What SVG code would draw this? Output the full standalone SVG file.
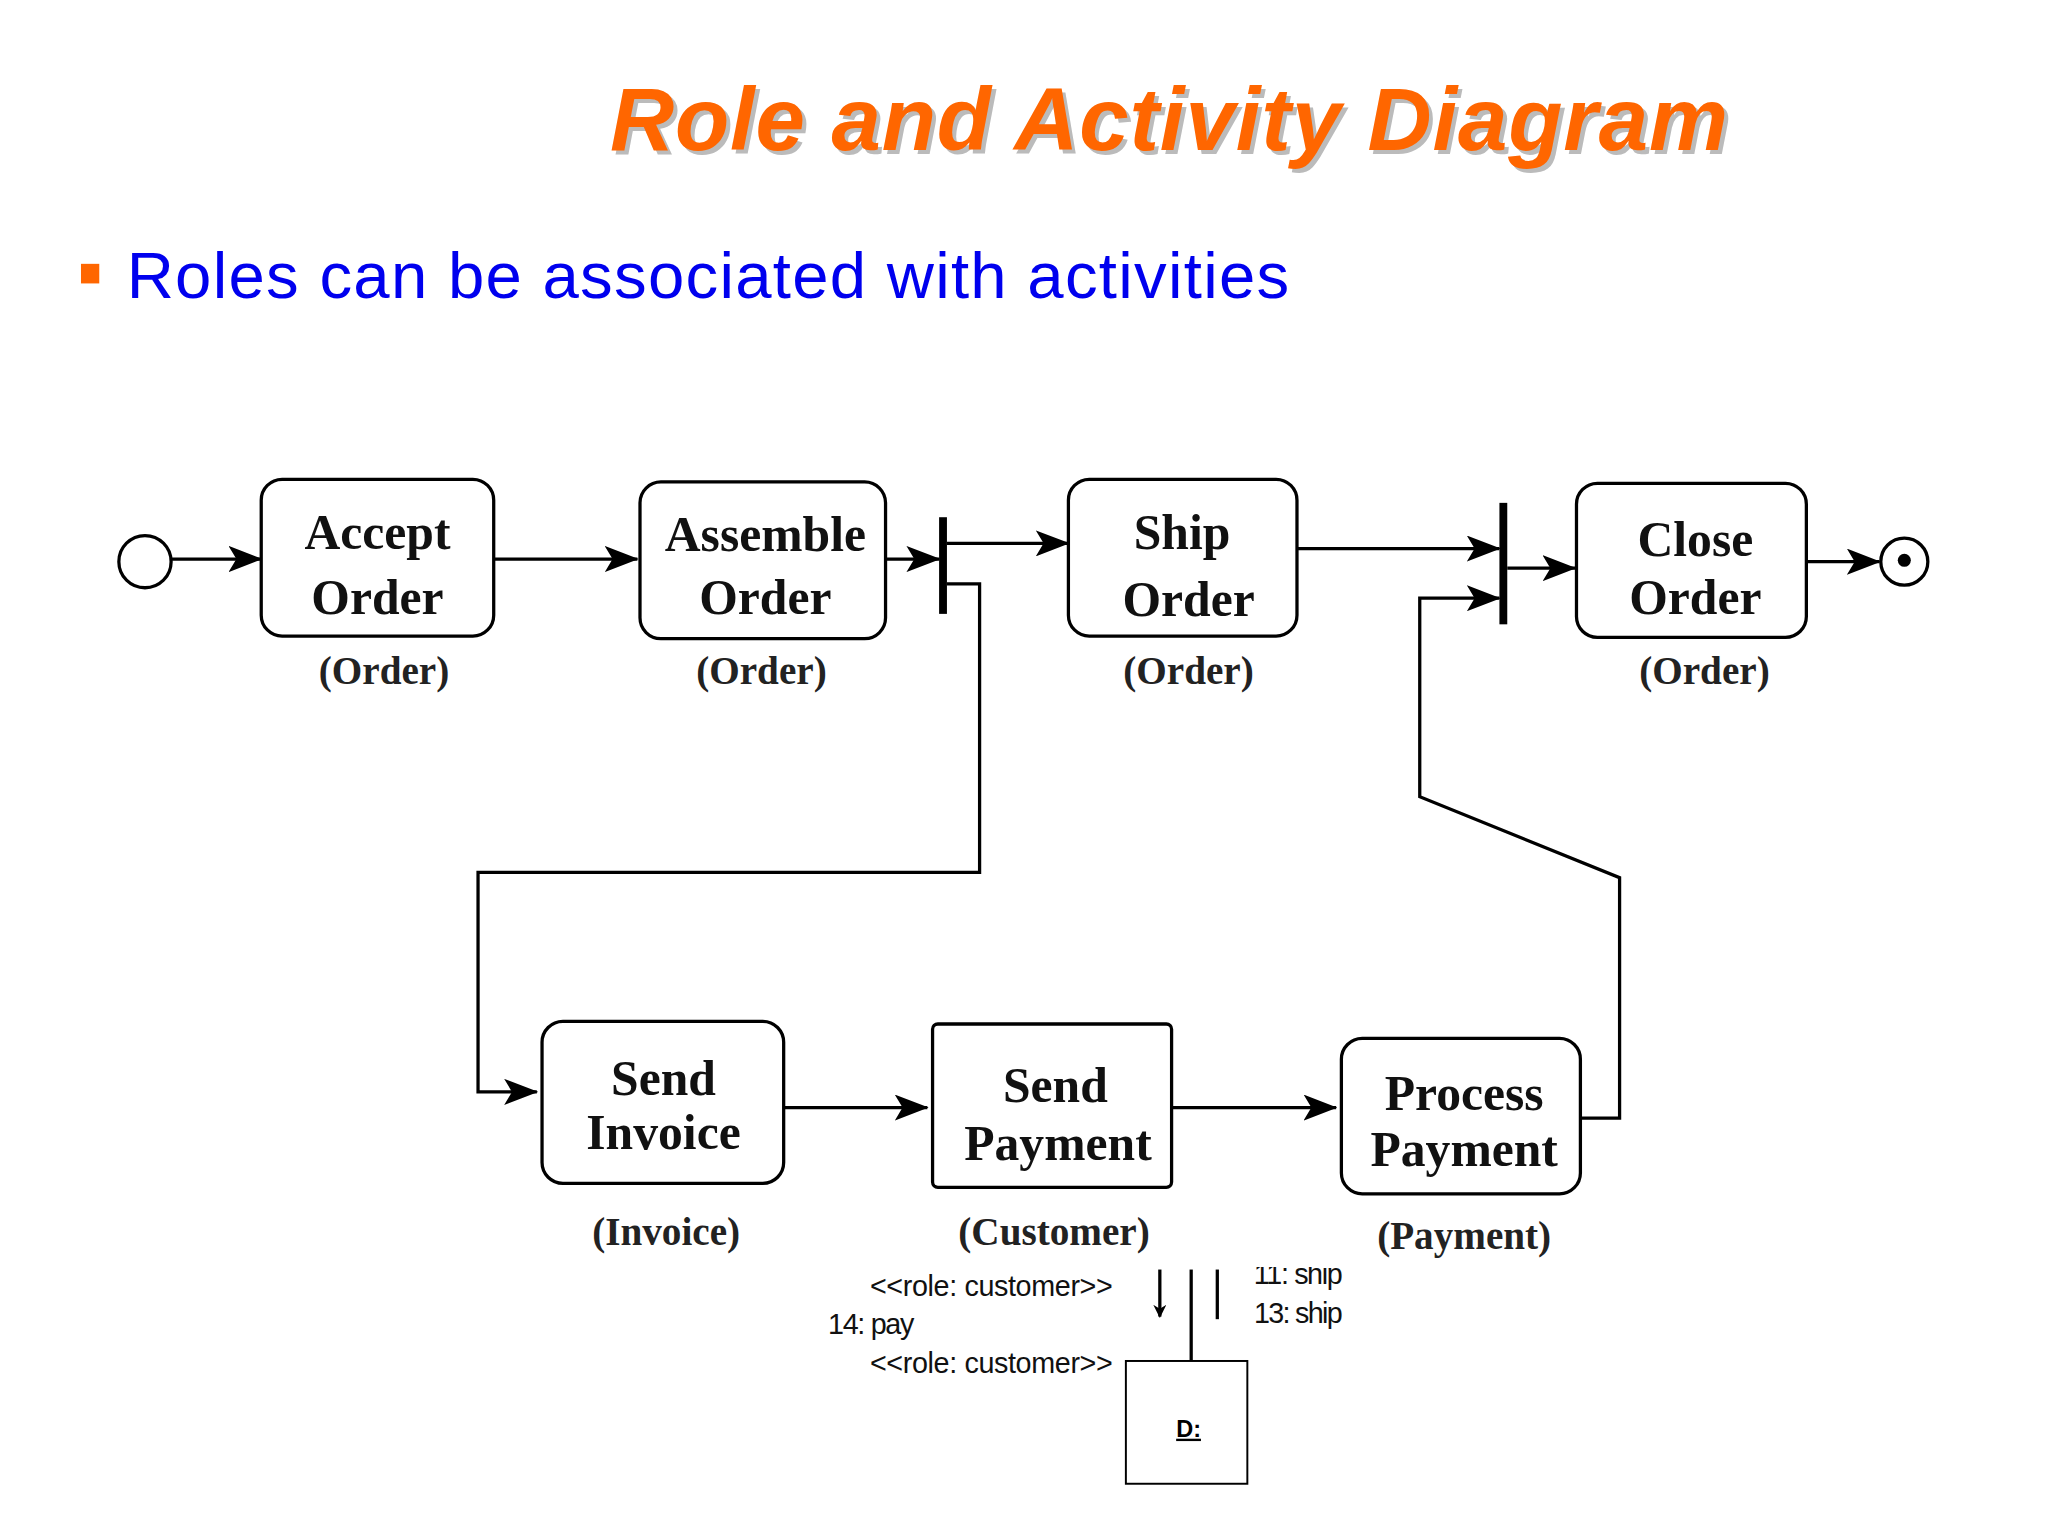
<svg xmlns="http://www.w3.org/2000/svg" width="2048" height="1536" viewBox="0 0 2048 1536">
<defs>
<style>
.box{fill:#fff;stroke:#000;stroke-width:2.5}
.ln{fill:none;stroke:#000;stroke-width:2.5}
.nt{font-family:"Liberation Serif",serif;font-weight:bold;font-size:38px;text-anchor:middle;fill:#111}
.rl{font-family:"Liberation Serif",serif;font-weight:bold;font-size:30px;text-anchor:middle;fill:#222}
.sm{font-family:"Liberation Sans",sans-serif;font-size:22px;fill:#111}
</style>
<marker id="ah" markerWidth="10" markerHeight="10" refX="9" refY="5" orient="auto" markerUnits="userSpaceOnUse" viewBox="0 0 10 10">
<path d="M0,0 L10,5 L0,10 L3,5 Z" fill="#000"/>
</marker>
<marker id="ah2" markerWidth="26" markerHeight="20" refX="25" refY="10" orient="auto" markerUnits="userSpaceOnUse" viewBox="0 0 26 20">
<path d="M0,0 L26,10 L0,20 L6,10 Z" fill="#000"/>
</marker>
</defs>
<rect width="2048" height="1536" fill="#fff"/>
<g transform="scale(1.30612)">
<g id="title">
<text x="470" y="118" font-family="Liberation Sans,sans-serif" font-weight="bold" font-style="italic" font-size="68" fill="#bbb" textLength="856">Role and Activity Diagram</text>
<text x="467" y="115" font-family="Liberation Sans,sans-serif" font-weight="bold" font-style="italic" font-size="68" fill="#FF6600" textLength="856">Role and Activity Diagram</text>
</g>
<g id="bullet">
<rect x="62" y="202" width="14" height="15" fill="#FF6600"/>
<text x="97" y="228" font-family="Liberation Sans,sans-serif" font-size="50" fill="#0000EE" textLength="890">Roles can be associated with activities</text>
</g>
<g id="connectors">
<line class="ln" x1="131" y1="428" x2="200" y2="428" marker-end="url(#ah2)"/>
<line class="ln" x1="378" y1="428" x2="488" y2="428" marker-end="url(#ah2)"/>
<line class="ln" x1="678" y1="428" x2="719" y2="428" marker-end="url(#ah2)"/>
<line class="ln" x1="725" y1="416" x2="818" y2="416" marker-end="url(#ah2)"/>
<polyline class="ln" points="725,447 750,447 750,668 366,668 366,836 411,836" marker-end="url(#ah2)"/>
<line class="ln" x1="993" y1="420" x2="1148" y2="420" marker-end="url(#ah2)"/>
<line class="ln" x1="1154" y1="435" x2="1206" y2="435" marker-end="url(#ah2)"/>
<line class="ln" x1="1383" y1="430" x2="1439" y2="430" marker-end="url(#ah2)"/>
<line class="ln" x1="600" y1="848" x2="710" y2="848" marker-end="url(#ah2)"/>
<line class="ln" x1="897" y1="848" x2="1023" y2="848" marker-end="url(#ah2)"/>
<polyline class="ln" points="1210,856 1240,856 1240,672 1087,610 1087,458 1148,458" marker-end="url(#ah2)"/>
</g>
<g id="start"><circle cx="111" cy="430" r="20" class="box"/></g>
<g id="fork"><rect x="719" y="396" width="6" height="74" fill="#000"/></g>
<g id="join"><rect x="1148" y="385" width="6" height="93" fill="#000"/></g>
<g id="end"><circle cx="1458" cy="430" r="18" class="box"/><circle cx="1458" cy="429" r="5" fill="#000"/></g>
<g id="accept"><rect class="box" x="200" y="367" width="178" height="120" rx="16"/>
<text class="nt" x="289" y="420">Accept</text><text class="nt" x="289" y="470">Order</text><text class="rl" x="294" y="524">(Order)</text></g>
<g id="assemble"><rect class="box" x="490" y="369" width="188" height="120" rx="16"/>
<text class="nt" x="586" y="422">Assemble</text><text class="nt" x="586" y="470">Order</text><text class="rl" x="583" y="524">(Order)</text></g>
<g id="ship"><rect class="box" x="818" y="367" width="175" height="120" rx="16"/>
<text class="nt" x="905" y="420">Ship</text><text class="nt" x="910" y="472">Order</text><text class="rl" x="910" y="524">(Order)</text></g>
<g id="close"><rect class="box" x="1207" y="370" width="176" height="118" rx="16"/>
<text class="nt" x="1298" y="426">Close</text><text class="nt" x="1298" y="470">Order</text><text class="rl" x="1305" y="524">(Order)</text></g>
<g id="invoice"><rect class="box" x="415" y="782" width="185" height="124" rx="16"/>
<text class="nt" x="508" y="838">Send</text><text class="nt" x="508" y="880">Invoice</text><text class="rl" x="510" y="953">(Invoice)</text></g>
<g id="sendpay"><rect class="box" x="714" y="784" width="183" height="125" rx="4"/>
<text class="nt" x="808" y="844">Send</text><text class="nt" x="810" y="888">Payment</text><text class="rl" x="807" y="953">(Customer)</text></g>
<g id="procpay"><rect class="box" x="1027" y="795" width="183" height="119" rx="16"/>
<text class="nt" x="1121" y="850">Process</text><text class="nt" x="1121" y="893">Payment</text><text class="rl" x="1121" y="956">(Payment)</text></g>
<g id="roles">
<text class="sm" x="666" y="992" textLength="186">&lt;&lt;role: customer&gt;&gt;</text>
<text class="sm" x="634" y="1021" textLength="66">14: pay</text>
<text class="sm" x="666" y="1051" textLength="186">&lt;&lt;role: customer&gt;&gt;</text>
<line class="ln" x1="888" y1="972" x2="888" y2="1008" marker-end="url(#ah)"/>
<line class="ln" x1="912" y1="972" x2="912" y2="1042"/>
<line class="ln" x1="932" y1="972" x2="932" y2="1010"/>
<svg x="950" y="970" width="100" height="20" overflow="hidden"><text class="sm" x="10" y="13" textLength="68">11: ship</text></svg>
<text class="sm" x="960" y="1013" textLength="68">13: ship</text>
</g>
<g id="D"><rect x="862" y="1042" width="93" height="94" fill="#fff" stroke="#000" stroke-width="1.5"/>
<text x="910" y="1100" font-family="Liberation Sans,sans-serif" font-weight="bold" font-size="18" text-anchor="middle" text-decoration="underline">D:</text></g>
</g>
</svg>
